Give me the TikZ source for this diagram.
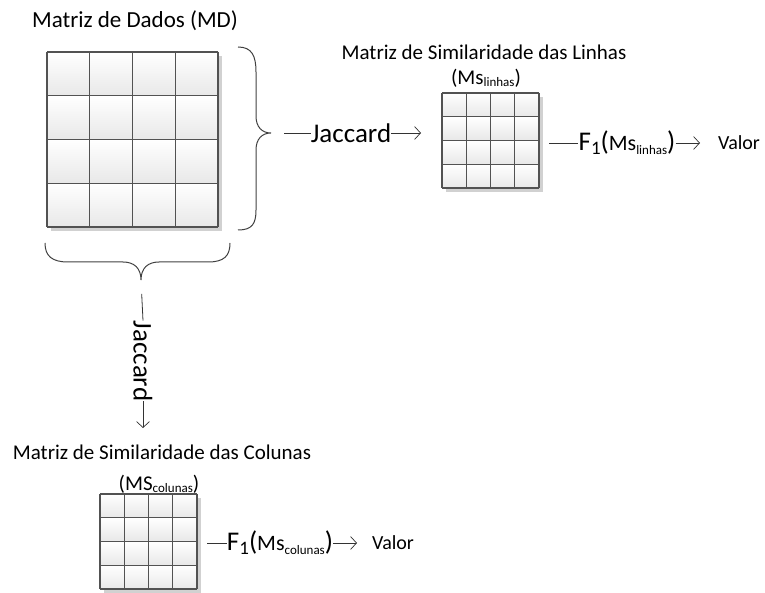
\documentclass[tikz,border=0pt]{standalone}
\usepackage{fontspec}
\setmainfont{Carlito}
\usetikzlibrary{arrows.meta}

\tikzset{
  lbl/.style={inner sep=0pt, font=\fontsize{21}{24}\selectfont},
  biglbl/.style={inner sep=0pt, font=\fontsize{27}{30}\selectfont},
  conn/.style={draw=black!80, line width=0.8pt},
  arr/.style={conn, -{Straight Barb[length=6pt,width=13pt,line width=0.7pt]}},
  bracepath/.style={draw=black!75, line width=1pt},
  gridline/.style={draw=black!68, line width=1.3pt},
}

% 4x4 grid of shaded cells with a drop shadow; #1,#2 = top left, #3,#4 = bottom right, #5 = name
\newcommand\cellmatrix[5]{%
  \fill[black!18] (#1+4,#2+4) rectangle (#3+4,#4+4);
  \foreach \i in {0,...,3}{\foreach \j in {0,...,3}{
    \shade[top color=white,bottom color=black!9]
      ({#1+(#3-#1)*\i/4},{#2+(#4-#2)*\j/4}) rectangle ({#1+(#3-#1)*(\i+1)/4},{#2+(#4-#2)*(\j+1)/4});
  }}
  \foreach \k in {0,...,4}{
    \draw[gridline] ({#1+(#3-#1)*\k/4},#2) -- ({#1+(#3-#1)*\k/4},#4);
    \draw[gridline] (#1,{#2+(#4-#2)*\k/4}) -- (#3,{#2+(#4-#2)*\k/4});
  }
  \coordinate (#5) at ({(#1+#3)/2},{(#2+#4)/2});
}

\newcommand\subtxt[1]{\raisebox{-0.25ex}{\fontsize{13}{14}\selectfont #1}}
\newcommand\fone[1]{F\raisebox{-0.3ex}{\fontsize{19}{20}\selectfont 1}({\fontsize{22}{24}\selectfont Ms}\subtxt{#1})}

\begin{document}
\begin{tikzpicture}[x=1pt,y=-1pt]
  \useasboundingbox (0,0) rectangle (765,593);

  % data matrix
  \node[lbl, font=\fontsize{23}{25}\selectfont] (tMD) at (135,21) {Matriz de Dados (MD)};
  \cellmatrix{47}{52}{218}{227}{MD}

  % brace over the rows
  \coordinate (tipR) at (271,133);
  \draw[bracepath] (238,47) .. controls (252,47) and (256,56) .. (256,72) -- (256,116)
        .. controls (256,127) and (262,133) .. (tipR)
        .. controls (262,133) and (256,139) .. (256,150) -- (256,210)
        .. controls (256,224) and (252,230) .. (238,230);

  % brace under the columns
  \coordinate (tipB) at (141,280);
  \draw[bracepath] (45,243) .. controls (45,256) and (52,262) .. (68,262) -- (123,262)
        .. controls (134,262) and (141,268) .. (tipB)
        .. controls (141,268) and (148,262) .. (159,262) -- (208,262)
        .. controls (224,262) and (230,256) .. (230,243);

  % row similarity
  \node[biglbl] (jacR) at (351,133) {Jaccard};
  \coordinate (endR) at (421,133);
  \draw[conn, shorten <=13pt] (tipR) -- (jacR.west);
  \draw[arr] (jacR.east) -- (endR);

  \node[lbl] (tLin) at (484,52) {Matriz de Similaridade das Linhas};
  \node[lbl] (sLin) at (486,78) {(Ms\subtxt{linhas})};
  \cellmatrix{442}{93}{539}{188}{MSL}

  \node[biglbl] (fLin) at (627,143) {\fone{linhas}};
  \coordinate (sLinF) at (549,143);
  \coordinate (eLinF) at (700,143);
  \node[lbl, font=\fontsize{20}{22}\selectfont] (vLin) at (739,143) {Valor};
  \draw[conn] (sLinF) -- (fLin.west);
  \draw[arr] (fLin.east) -- (eLinF);

  % column similarity
  \node[biglbl, rotate=-90] (jacB) at (143,361) {Jaccard};
  \coordinate (endB) at (143,428);
  \draw[conn, shorten <=14pt] (tipB) -- (jacB.west);
  \draw[arr] (jacB.east) -- (endB);

  \node[lbl] (tCol) at (162,452) {Matriz de Similaridade das Colunas};
  \node[lbl] (sCol) at (159,484) {(MS\subtxt{colunas})};
  \cellmatrix{100}{494}{197}{589}{MSC}

  \node[biglbl] (fCol) at (280,543) {\fone{colunas}};
  \coordinate (sColF) at (207,543);
  \coordinate (eColF) at (357,543);
  \node[lbl, font=\fontsize{20}{22}\selectfont] (vCol) at (393,543) {Valor};
  \draw[conn] (sColF) -- (fCol.west);
  \draw[arr] (fCol.east) -- (eColF);
\end{tikzpicture}
\end{document}
